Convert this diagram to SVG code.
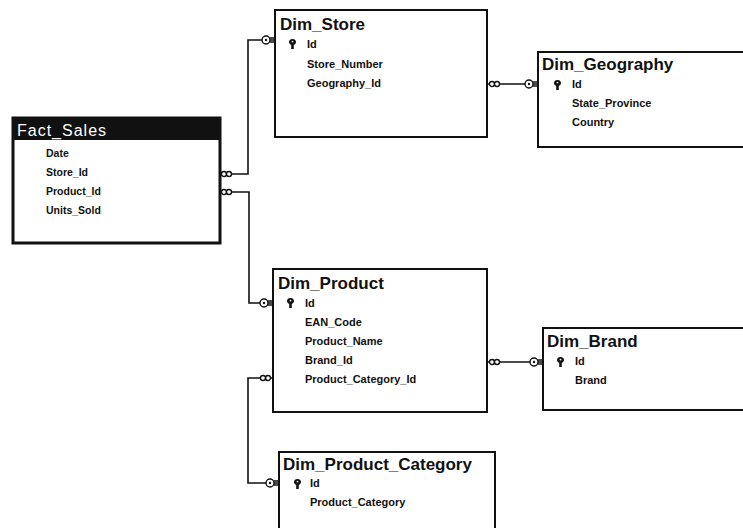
<svg xmlns="http://www.w3.org/2000/svg" xmlns:xlink="http://www.w3.org/1999/xlink" width="743" height="528" viewBox="0 0 743 528">
  <style>
    .box { fill: #ffffff; stroke: #111111; stroke-width: 2; }
    .title { font-family: "Liberation Sans", Arial, sans-serif; font-size: 17px; font-weight: bold; fill: #111111; }
    .field { font-family: "Liberation Sans", Arial, sans-serif; font-size: 11px; font-weight: bold; fill: #111111; }
    .small { font-size: 10.5px; }
    .hdr { font-family: "Liberation Sans", Arial, sans-serif; font-size: 16px; fill: #ffffff; letter-spacing: 1px; }
    .wire { fill: none; stroke: #111111; stroke-width: 1.6; }
    .end { fill: #ffffff; stroke: #111111; stroke-width: 1.4; }
  </style>
  <defs>
    <!-- primary key glyph -->
    <symbol id="key" viewBox="0 0 7 10" width="7" height="10">
      <path d="M3.5 0 C6 0 7 1.5 7 3 C7 4.5 6 5.5 4.8 5.8 L4.8 10 L2.2 10 L2.2 5.8 C1 5.5 0 4.5 0 3 C0 1.5 1 0 3.5 0 Z" fill="#111111"/>
      <circle cx="3.5" cy="2.6" r="0.9" fill="#ffffff"/>
    </symbol>
    <!-- "many" end: pair of rings, pointing right (box on the left) -->
    <g id="manyR">
      <circle class="end" cx="3" cy="0" r="2.5"/>
      <circle class="end" cx="8" cy="0" r="2.5"/>
    </g>
    <!-- "one" end: ring with dot and bar, box on the right -->
    <g id="oneL">
      <circle class="end" cx="-9" cy="0" r="4"/>
      <circle cx="-9" cy="0" r="1.2" fill="#111111"/>
      <path d="M-5 -2 H0 M-5 2 H0" stroke="#111111" stroke-width="1.5"/>
    </g>
  </defs>

  <!-- connectors -->
  <g id="connectors">
    <path class="wire" d="M219 174 H248 V40 H275"/>
    <path class="wire" d="M219 192 H249 V303 H273"/>
    <path class="wire" d="M487 84 H538"/>
    <path class="wire" d="M487 362 H543"/>
    <path class="wire" d="M273 378 H248 V483 H279"/>
    <use xlink:href="#manyR" x="221" y="174"/>
    <use xlink:href="#manyR" x="221" y="192"/>
    <use xlink:href="#oneL" x="275" y="40"/>
    <use xlink:href="#oneL" x="273" y="303"/>
    <use xlink:href="#manyR" x="489" y="84"/>
    <use xlink:href="#oneL" x="538" y="84"/>
    <use xlink:href="#manyR" x="489" y="362"/>
    <use xlink:href="#oneL" x="543" y="362"/>
    <g transform="translate(273 378) scale(-1 1)"><use xlink:href="#manyR" x="2" y="0"/></g>
    <use xlink:href="#oneL" x="279" y="483"/>
  </g>

  <!-- Fact_Sales -->
  <g id="fact_sales">
    <rect x="13" y="118" width="207" height="125" fill="#ffffff" stroke="#111111" stroke-width="3"/>
    <rect x="13" y="118" width="207" height="22" fill="#111111"/>
    <text class="hdr" x="17" y="136">Fact_Sales</text>
    <text class="field small" x="46" y="157">Date</text>
    <text class="field small" x="46" y="176">Store_Id</text>
    <text class="field small" x="46" y="195">Product_Id</text>
    <text class="field small" x="46" y="214">Units_Sold</text>
  </g>

  <!-- Dim_Store -->
  <g id="dim_store">
    <rect class="box" x="275" y="10" width="212" height="127"/>
    <text class="title" x="280" y="30">Dim_Store</text>
    <use xlink:href="#key" x="289" y="39"/>
    <text class="field" x="307" y="48">Id</text>
    <text class="field" x="307" y="68">Store_Number</text>
    <text class="field" x="307" y="87">Geography_Id</text>
  </g>

  <!-- Dim_Geography -->
  <g id="dim_geography">
    <rect class="box" x="538" y="52" width="212" height="95"/>
    <text class="title" x="542" y="70">Dim_Geography</text>
    <use xlink:href="#key" x="554" y="80"/>
    <text class="field" x="572" y="88">Id</text>
    <text class="field" x="572" y="107">State_Province</text>
    <text class="field" x="572" y="126">Country</text>
  </g>

  <!-- Dim_Product -->
  <g id="dim_product">
    <rect class="box" x="273" y="269" width="214" height="143"/>
    <text class="title" x="278" y="289">Dim_Product</text>
    <use xlink:href="#key" x="287" y="298"/>
    <text class="field" x="305" y="307">Id</text>
    <text class="field" x="305" y="326">EAN_Code</text>
    <text class="field" x="305" y="345">Product_Name</text>
    <text class="field" x="305" y="364">Brand_Id</text>
    <text class="field" x="305" y="383">Product_Category_Id</text>
  </g>

  <!-- Dim_Brand -->
  <g id="dim_brand">
    <rect class="box" x="543" y="328" width="207" height="82"/>
    <text class="title" x="547" y="347">Dim_Brand</text>
    <use xlink:href="#key" x="557" y="357"/>
    <text class="field" x="575" y="365">Id</text>
    <text class="field" x="575" y="384">Brand</text>
  </g>

  <!-- Dim_Product_Category -->
  <g id="dim_product_category">
    <rect class="box" x="279" y="452" width="216" height="90"/>
    <text class="title" x="283" y="470">Dim_Product_Category</text>
    <use xlink:href="#key" x="294" y="479"/>
    <text class="field" x="310" y="487">Id</text>
    <text class="field" x="310" y="506">Product_Category</text>
  </g>
</svg>
